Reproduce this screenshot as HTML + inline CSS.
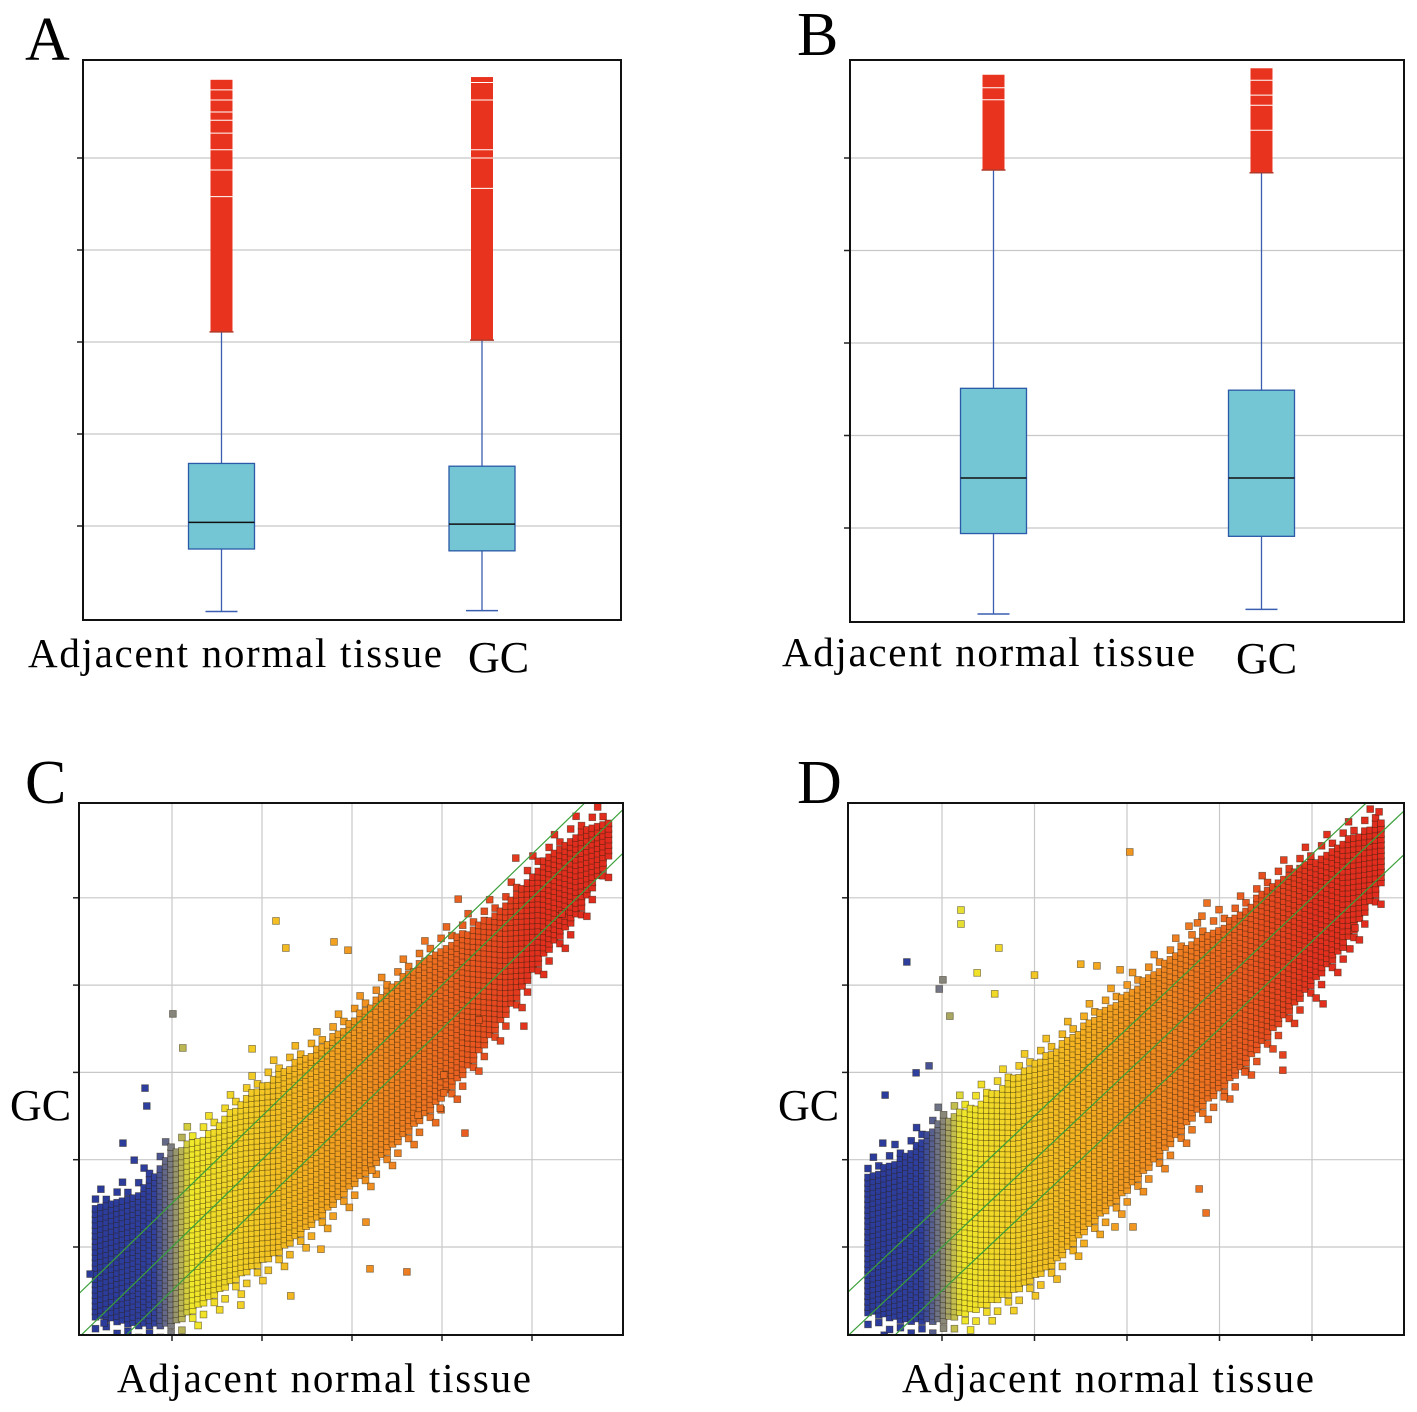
<!DOCTYPE html>
<html><head><meta charset="utf-8"><style>
html,body{margin:0;padding:0;background:#fff;}
svg{display:block;font-family:"Liberation Serif","Times New Roman",serif;}
</style></head><body>
<svg id="fig" width="1417" height="1412" viewBox="0 0 1417 1412" xmlns="http://www.w3.org/2000/svg">
<defs>
<clipPath id="clipC"><rect x="79" y="803" width="544" height="532"/></clipPath>
<clipPath id="clipD"><rect x="848" y="803" width="556" height="532"/></clipPath>
</defs>
<g id="layerA"></g>
<g id="layerB"></g>
<g id="layerC"></g>
<g id="layerD"></g>
<text x="25" y="60" font-size="62">A</text>
<text x="797" y="55" font-size="62">B</text>
<text x="25" y="803" font-size="62">C</text>
<text x="797" y="803" font-size="62">D</text>
<text x="28" y="667" font-size="41" textLength="414">Adjacent normal tissue</text>
<text x="468" y="672" font-size="44">GC</text>
<text x="782" y="666" font-size="41" textLength="413">Adjacent normal tissue</text>
<text x="1236" y="673" font-size="44">GC</text>
<text x="10" y="1120" font-size="44">GC</text>
<text x="117" y="1392" font-size="41" textLength="414">Adjacent normal tissue</text>
<text x="778" y="1120" font-size="44">GC</text>
<text x="902" y="1392" font-size="41" textLength="412">Adjacent normal tissue</text>
</svg>
<script>
// ---------- Box plot data ----------
const boxCategories = ['Adjacent normal tissue', 'GC'];
const boxTicks = [2, 3, 4, 5, 6];
const aLow = [1.07, 1.08];
const aQ1 = [1.75, 1.73];
const aMed = [2.04, 2.02];
const aQ3 = [2.68, 2.65];
const aHigh = [4.11, 4.02];
const aMax = [6.85, 6.88];
const aGaps = [[6.74, 6.63, 6.5, 6.41, 6.27, 6.09, 5.87, 5.58], [6.82, 6.63, 6.09, 6.0, 5.67]];
const bLow = [1.07, 1.12];
const bQ1 = [1.94, 1.91];
const bMed = [2.54, 2.54];
const bQ3 = [3.51, 3.49];
const bHigh = [5.87, 5.84];
const bMax = [6.90, 6.97];
const bGaps = [[6.76, 6.63], [6.84, 6.68, 6.57, 6.3]];

// ---------- Scatter data (log2 intensities) ----------
const scatterTicks = [2, 4, 6, 8, 10];
const foldOffsets = [-1, 0, 1];
const cBandX = [0.3, 1.2, 2.0, 2.8, 3.6, 4.4, 5.3, 6.1, 6.9, 7.7, 8.5, 9.4, 10.2, 11.0, 11.7];
const cBandLo = [0.4, 0.2, 0.2, 0.8, 1.4, 1.9, 2.7, 3.5, 4.3, 5.1, 6.0, 7.3, 8.6, 9.6, 10.9];
const cBandHi = [2.9, 3.2, 4.2, 4.6, 5.4, 6.0, 6.6, 7.3, 8.0, 8.7, 9.2, 9.8, 10.8, 11.5, 11.8];
const cOutX = [4.31,4.53,5.6,5.91,2.02,2.24,3.78,1.4,9.82,8.51,6.31,7.22,6.4,5.31,8.36,9.64,10.67,8.04,8.04,7.47,7.96,8.82,0.18,0.49,0.91,1.16,1.44,6.44,4.64,3.53];
const cOutY = [9.47,8.85,8.99,8.8,7.34,6.56,6.54,5.64,7.06,4.61,2.57,1.43,1.5,1.95,9.97,10.91,9.63,5.94,5.53,5.02,5.18,7.2,1.38,0.26,4.38,3.99,5.23,3.76,0.88,0.67];
const dBandX = [0.4, 1.2, 2.0, 2.8, 3.6, 4.4, 5.2, 6.0, 6.8, 7.6, 8.4, 9.1, 9.9, 10.7, 11.5];
const dBandLo = [0.5, 0.3, 0.3, 0.6, 1.0, 1.6, 2.5, 3.3, 4.2, 5.2, 6.0, 6.9, 7.9, 8.9, 10.3];
const dBandHi = [3.6, 4.1, 4.9, 5.3, 5.9, 6.5, 7.2, 7.8, 8.5, 9.1, 9.6, 10.3, 10.8, 11.3, 11.8];
const dOutX = [6.06,1.24,2.41,2.41,3.23,2.76,2.02,1.94,3.14,4.0,5.0,5.35,5.85,2.17,7.73,7.62,7.34,10.24,10.82,10.93,9.37,9.37,7.56,7.71,6.13,5.74,0.77,0.72,1.44,1.72,11.45,8.1,8.55];
const dOutY = [11.05,8.53,9.72,9.4,8.85,8.28,8.12,7.91,7.8,8.23,8.48,8.44,8.35,7.29,9.88,9.58,9.35,7.57,8.83,9.31,6.4,6.05,3.33,2.78,2.46,2.46,5.48,4.38,5.99,6.15,11.97,5.44,6.01];

const NS = 'http://www.w3.org/2000/svg';
function mk(tag, attrs, parent) {
  const el = document.createElementNS(NS, tag);
  for (const k in attrs) el.setAttribute(k, attrs[k]);
  parent.appendChild(el);
  return el;
}

function boxPanel(layerId, fr, centers, yScale, low, q1, med, q3, high, mx, gaps) {
  const g = document.getElementById(layerId);
  boxTicks.forEach(t => {
    const y = yScale(t);
    const gl = mk('line', {x1: fr.x, x2: fr.x + fr.w, y1: y, y2: y, stroke: '#c8c8c8', 'stroke-width': 1.2}, g);
    
    
    const tk = mk('line', {x1: fr.x - 6, x2: fr.x, y1: y, y2: y, stroke: '#222', 'stroke-width': 1.5}, g);
    
    
  });
  boxCategories.forEach((c, i) => {
    const cx = centers[i];
    const bw = 66, ow = 22, cw = 32;
    const wk = mk('line', {x1: cx, x2: cx, y1: yScale(low[i]), y2: yScale(high[i]), stroke: '#3a5fb0', 'stroke-width': 1.3}, g);
    
    
    const cap = mk('line', {x1: cx - cw / 2, x2: cx + cw / 2, y1: yScale(low[i]), y2: yScale(low[i]), stroke: '#3a5fb0', 'stroke-width': 1.5}, g);
    
    
    const out = mk('rect', {x: cx - ow / 2, y: yScale(mx[i]), width: ow, height: yScale(high[i]) - yScale(mx[i]), fill: '#e8341f'}, g);
    
    
    gaps[i].forEach(v => {
      const gp = mk('line', {x1: cx - ow / 2, x2: cx + ow / 2, y1: yScale(v), y2: yScale(v), stroke: '#fff', 'stroke-width': 1}, g);
      
      
    });
    const cap2 = mk('line', {x1: cx - ow / 2 - 1, x2: cx + ow / 2 + 1, y1: yScale(high[i]), y2: yScale(high[i]), stroke: '#b03a2a', 'stroke-width': 1.5}, g);
    
    
    const bx = mk('rect', {x: cx - bw / 2, y: yScale(q3[i]), width: bw, height: yScale(q1[i]) - yScale(q3[i]), fill: '#74c6d4', stroke: '#2b5aa8', 'stroke-width': 1.3}, g);
    
    
    const md = mk('line', {x1: cx - bw / 2, x2: cx + bw / 2, y1: yScale(med[i]), y2: yScale(med[i]), stroke: '#111', 'stroke-width': 1.5}, g);
    
    
  });
  const f = mk('rect', {x: fr.x, y: fr.y, width: fr.w, height: fr.h, fill: 'none', stroke: '#111', 'stroke-width': 2}, g);
  
  
}

boxPanel('layerA', {x: 83, y: 60, w: 538, h: 560}, [221.5, 482], v => 526 - (v - 2) * 92,
  aLow, aQ1, aMed, aQ3, aHigh, aMax, aGaps);
boxPanel('layerB', {x: 850, y: 60, w: 554, h: 562}, [993.5, 1261.5], v => 528 - (v - 2) * 92.5,
  bLow, bQ1, bMed, bQ3, bHigh, bMax, bGaps);

const stops = [[0, [42, 58, 154]], [1.6, [47, 63, 158]], [2.0, [128, 128, 128]], [2.45, [240, 232, 42]], [5, [244, 176, 32]], [8, [236, 106, 32]], [10, [226, 48, 30]], [13, [226, 40, 30]]];
function colorAt(v) {
  for (let i = 0; i < stops.length - 1; i++) {
    const a = stops[i], b = stops[i + 1];
    if (v <= b[0]) {
      const t = Math.max(0, (v - a[0]) / (b[0] - a[0]));
      const c = a[1].map((x, k) => Math.round(x + (b[1][k] - x) * t));
      return 'rgb(' + c.join(',') + ')';
    }
  }
  return 'rgb(226,40,30)';
}
function interp(xs, ys, x) {
  if (x <= xs[0]) return ys[0];
  for (let i = 0; i < xs.length - 1; i++) {
    if (x <= xs[i + 1]) { const t = (x - xs[i]) / (xs[i + 1] - xs[i]); return ys[i] + (ys[i + 1] - ys[i]) * t; }
  }
  return ys[ys.length - 1];
}

function scatterPanel(layerId, clipId, fr, xScale, yScale, bandX, bandLo, bandHi, outX, outY) {
  const g = document.getElementById(layerId);
  scatterTicks.forEach(t => {
    const x = xScale(t), y = yScale(t);
    const gx = mk('line', {x1: x, x2: x, y1: fr.y, y2: fr.y + fr.h, stroke: '#c8c8c8', 'stroke-width': 1.2}, g);
    
    
    const gy = mk('line', {x1: fr.x, x2: fr.x + fr.w, y1: y, y2: y, stroke: '#c8c8c8', 'stroke-width': 1.2}, g);
    
    
    const tx = mk('line', {x1: x, x2: x, y1: fr.y + fr.h, y2: fr.y + fr.h + 6, stroke: '#222', 'stroke-width': 1.5}, g);
    
    
    const ty = mk('line', {x1: fr.x - 6, x2: fr.x, y1: y, y2: y, stroke: '#222', 'stroke-width': 1.5}, g);
    
    
  });
  const pts = mk('g', {'clip-path': 'url(#' + clipId + ')'}, g);
  
  
  const dx = 5.4 / (xScale(1) - xScale(0));
  const dy = 5.4 / (yScale(0) - yScale(1));
  let col = 0;
  for (let x = bandX[0]; x <= bandX[bandX.length - 1]; x += dx, col++) {
    const lo = interp(bandX, bandLo, x), hi = interp(bandX, bandHi, x);
    const off = (col % 2) * dy * 0.5;
    const ys = [];
    for (let y = lo + off; y <= hi; y += dy) ys.push(y);
    // feathered edges
    const m = col % 4;
    if (m === 0) { ys.push(hi + dy * 1.6); ys.push(lo - dy * 2.2); }
    if (m === 1) { ys.push(hi + dy * 3.1); }
    if (m === 2) { ys.push(lo - dy * 1.4); ys.push(hi + dy * 0.9); }
    if (m === 3) { ys.push(lo - dy * 3.5); }
    ys.forEach(y => {
      const r = mk('rect', {x: (xScale(x) - 3.4).toFixed(1), y: (yScale(y) - 3.4).toFixed(1), width: 6.8, height: 6.8, fill: colorAt(x), stroke: 'rgba(40,30,10,0.5)', 'stroke-width': 0.8}, pts);
      
      
    });
  }
  outX.forEach((xv, i) => {
    const r = mk('rect', {x: xScale(xv) - 3.4, y: yScale(outY[i]) - 3.4, width: 6.8, height: 6.8, fill: colorAt(xv), stroke: 'rgba(40,30,10,0.5)', 'stroke-width': 0.8}, pts);
    
    
  });
  foldOffsets.forEach(o => {
    const l = mk('line', {x1: xScale(-2), y1: yScale(-2 + o), x2: xScale(14), y2: yScale(14 + o), stroke: '#3aa03a', 'stroke-width': 1.2}, pts);
    
    
  });
  const f = mk('rect', {x: fr.x, y: fr.y, width: fr.w, height: fr.h, fill: 'none', stroke: '#111', 'stroke-width': 2}, g);
  
  
}

scatterPanel('layerC', 'clipC', {x: 79, y: 803, w: 544, h: 532}, v => 172 + (v - 2) * 45, v => 1247 - (v - 2) * 43.65,
  cBandX, cBandLo, cBandHi, cOutX, cOutY);
scatterPanel('layerD', 'clipD', {x: 848, y: 803, w: 556, h: 532}, v => 942 + (v - 2) * 46.25, v => 1247 - (v - 2) * 43.65,
  dBandX, dBandLo, dBandHi, dOutX, dOutY);
</script>
</body></html>
